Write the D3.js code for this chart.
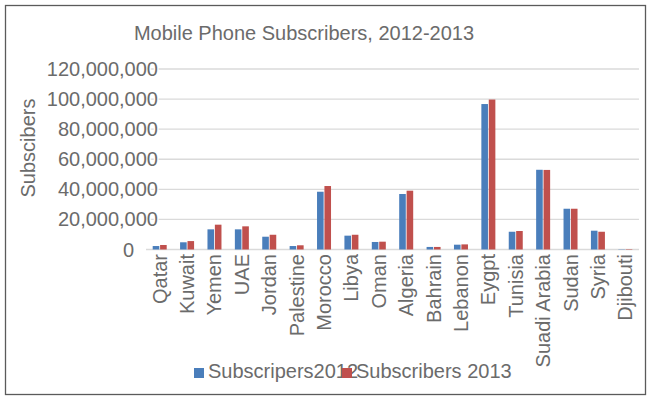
<!DOCTYPE html>
<html>
<head>
<meta charset="utf-8">
<script src="https://cdn.jsdelivr.net/npm/d3@7"></script>
<style>
  body { margin: 0; background: #fff; }
  svg { font-family: "Liberation Sans", Arial, sans-serif; }
</style>
</head>
<body>
<div id="chart"></div>
<script>
// Values, in subscribers
const countries = ['Qatar', 'Kuwait', 'Yemen', 'UAE', 'Jordan', 'Palestine', 'Morocco', 'Libya', 'Oman',
  'Algeria', 'Bahrain', 'Lebanon', 'Eygpt', 'Tunisia', 'Suadi Arabia', 'Sudan', 'Syria', 'Djibouti'];
const subs2012 = [2300000, 4800000, 13400000, 13400000, 8500000, 2300000, 38400000, 9200000, 5000000,
  36900000, 1700000, 3200000, 96700000, 11800000, 53000000, 27100000, 12500000, 200000];
const subs2013 = [3000000, 5600000, 16500000, 15400000, 9800000, 2800000, 42200000, 9800000, 5200000,
  39100000, 1700000, 3400000, 99700000, 12300000, 52900000, 27100000, 11800000, 300000];
const yTicks = [0, 20000000, 40000000, 60000000, 80000000, 100000000, 120000000];
const seriesNames = ['Subscripers2012', 'Subscribers 2013'];
const colors = ['#4a7ebb', '#c0504d'];

const W = 647, H = 399;
const textColor = '#6b6b6b';

const svg = d3.select('#chart').append('svg')
  .attr('width', W)
  .attr('height', H);

// chart frame
svg.append('rect')
  .attr('x', 5.5).attr('y', 5.5)
  .attr('width', 640).attr('height', 389)
  .attr('fill', '#fff')
  .attr('stroke', '#5a5a5a')
  .attr('stroke-width', 1.3);

const x = d3.scaleBand().domain(countries).range([146, 639]);
const y = d3.scaleLinear().domain([0, 120000000]).range([249.5, 69]);

// gridlines
svg.append('g')
  .selectAll('line')
  .data(yTicks)
  .join('line')
  .attr('x1', 146).attr('x2', 639)
  .attr('y1', d => y(d)).attr('y2', d => y(d))
  .attr('stroke', '#dadada')
  .attr('stroke-width', 1.3);

// y tick labels (white halo hides the gridline under the text)
svg.append('g')
  .selectAll('text')
  .data(yTicks)
  .join('text')
  .attr('x', d => d === 0 ? 134 : 158)
  .attr('y', d => y(d))
  .attr('dy', '0.35em')
  .attr('text-anchor', 'end')
  .attr('font-size', 20)
  .attr('fill', textColor)
  .attr('stroke', '#fff')
  .attr('stroke-width', 3)
  .attr('paint-order', 'stroke')
  .text(d => d3.format(',')(d));

// bars
const bw = 6.6;
const series = [subs2012, subs2013];
series.forEach((vals, s) => {
  svg.append('g')
    .selectAll('rect')
    .data(countries)
    .join('rect')
    .attr('x', (d, i) => x(d) + x.bandwidth() / 2 + (s === 0 ? -bw - 0.4 : 0.4))
    .attr('y', (d, i) => y(vals[i]))
    .attr('width', bw)
    .attr('height', (d, i) => y(0) - y(vals[i]))
    .attr('fill', colors[s]);
});

// category labels
svg.append('g')
  .selectAll('text')
  .data(countries)
  .join('text')
  .attr('transform', d => `translate(${x(d) + x.bandwidth() / 2},254) rotate(-90)`)
  .attr('dy', '0.35em')
  .attr('text-anchor', 'end')
  .attr('font-size', 20)
  .attr('fill', textColor)
  .text(d => d);

// title
svg.append('text')
  .attr('x', 304)
  .attr('y', 40)
  .attr('text-anchor', 'middle')
  .attr('font-size', 20)
  .attr('fill', textColor)
  .text('Mobile Phone Subscribers, 2012-2013');

// y axis title
svg.append('text')
  .attr('transform', 'translate(35,148) rotate(-90)')
  .attr('text-anchor', 'middle')
  .attr('font-size', 20)
  .attr('fill', textColor)
  .text('Subscibers');

// legend
const legendX = [194, 342];
seriesNames.forEach((name, s) => {
  svg.append('rect')
    .attr('x', legendX[s]).attr('y', 368)
    .attr('width', 10).attr('height', 10)
    .attr('fill', colors[s]);
  svg.append('text')
    .attr('x', legendX[s] + 14)
    .attr('y', 378)
    .attr('font-size', 20)
    .attr('fill', textColor)
    .text(name);
});
</script>
</body>
</html>
